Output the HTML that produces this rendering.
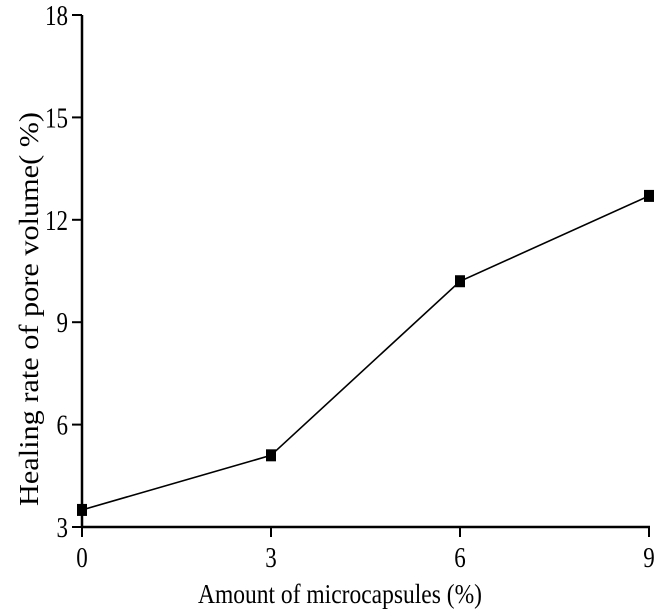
<!DOCTYPE html>
<html><head><meta charset="utf-8"><style>
html,body{margin:0;padding:0;background:#fff;}
svg{display:block;font-family:"Liberation Serif",serif;}
</style></head><body>
<svg id="chart" width="662" height="614" viewBox="0 0 662 614"></svg>
<script>
const categories = [0, 3, 6, 9];
const seriesValues = [3.5, 5.1, 10.2, 12.7];
const xTicks = [0, 3, 6, 9];
const yTicks = [3, 6, 9, 12, 15, 18];
const NS = "http://www.w3.org/2000/svg";
const svg = document.getElementById('chart');
const x0 = 82, x1 = 649, yb = 527, yt = 15;
function xs(v){ return x0 + (v - 0) / 9 * (x1 - x0); }
function ys(v){ return yb - (v - 3) / 15 * (yb - yt); }
function mk(tag, attrs, parent){
  const e = document.createElementNS(NS, tag);
  for (const k in attrs) e.setAttribute(k, attrs[k]);
  (parent || svg).appendChild(e);
  return e;
}
let a = mk('line', {x1:x0, y1:yt, x2:x0, y2:yb+1, stroke:'#000','stroke-width':2.5});


a = mk('line', {x1:x0-1, y1:yb, x2:x1+1, y2:yb, stroke:'#000','stroke-width':2.5});


yTicks.forEach(v => {
  const t = mk('line', {x1:x0-10, y1:ys(v), x2:x0, y2:ys(v), stroke:'#000','stroke-width':2});
  
  
  const s = String(v);
  const l = mk('text', {x:x0-14, y:ys(v)+10, 'text-anchor':'end','font-size':28, textLength:s.length*11.5, lengthAdjust:'spacingAndGlyphs'});
  l.textContent = s;
  
  
});
xTicks.forEach(v => {
  const t = mk('line', {x1:xs(v), y1:yb, x2:xs(v), y2:yb+10, stroke:'#000','stroke-width':2});
  
  
  const s = String(v);
  const l = mk('text', {x:xs(v), y:567, 'text-anchor':'middle','font-size':28, textLength:s.length*11.5, lengthAdjust:'spacingAndGlyphs'});
  l.textContent = s;
  
  
});
const pts = categories.map((c,i) => xs(c) + ',' + ys(seriesValues[i])).join(' ');
const pl = mk('polyline', {points:pts, fill:'none', stroke:'#000','stroke-width':1.6});


categories.forEach((c,i) => {
  const r = mk('rect', {x:xs(c)-5, y:ys(seriesValues[i])-6, width:10, height:12, fill:'#000'});
  
  
});
const xt = mk('text', {x:340, y:603, 'text-anchor':'middle','font-size':27, textLength:284, lengthAdjust:'spacingAndGlyphs'});
xt.textContent = 'Amount of microcapsules (%)';


const yt2 = mk('text', {x:0, y:0, 'text-anchor':'middle','font-size':27, textLength:394, lengthAdjust:'spacingAndGlyphs', transform:'translate(38,309) rotate(-90)'});
yt2.textContent = 'Healing rate of pore volume(  %)';


</script>
</body></html>
